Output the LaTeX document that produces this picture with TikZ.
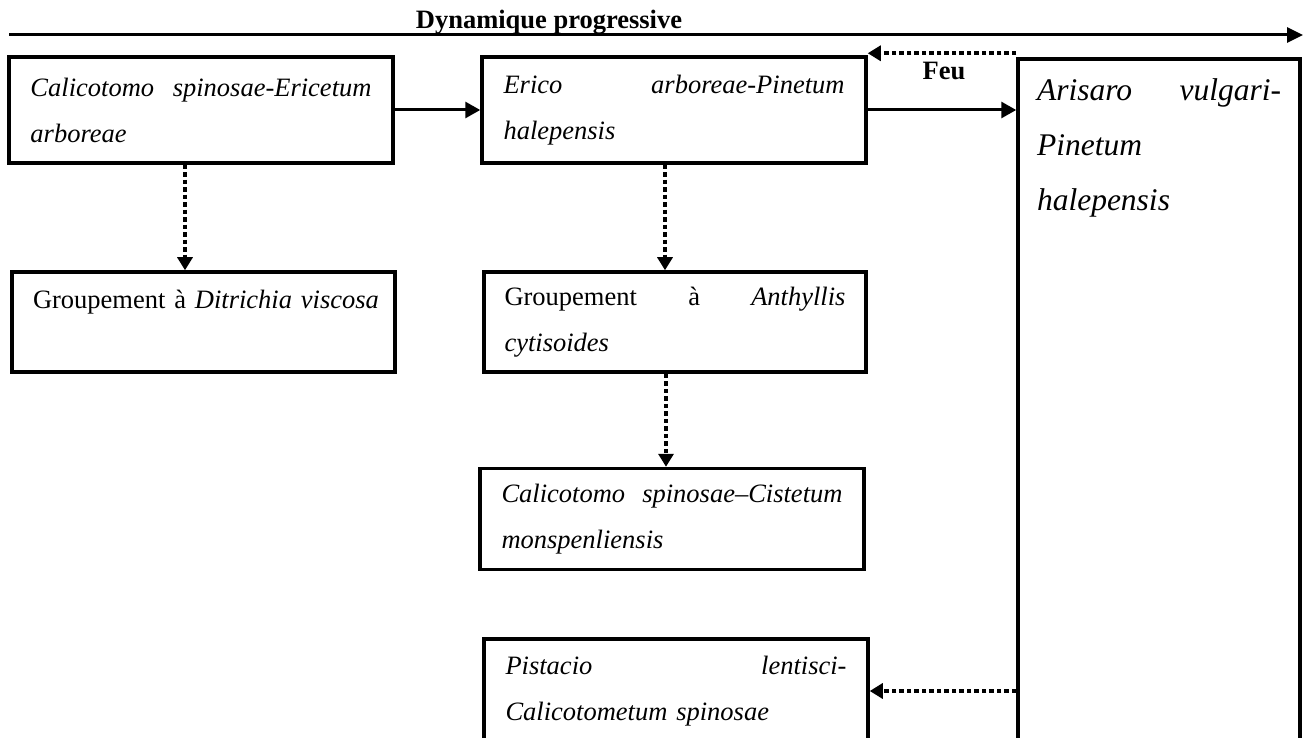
\documentclass[tikz,border=0pt]{standalone}
\usepackage{fontspec}
\setmainfont{Liberation Serif}
\usetikzlibrary{arrows.meta}
\newcommand\jline[1]{\noindent\hbox to\hsize{#1}}
\begin{document}
\begin{tikzpicture}[x=1pt,y=-1pt,
  box/.style={draw, line width=3.5pt, rectangle, inner sep=0pt, text width=341pt, align=left,
    font=\fontsize{26.5}{46}\selectfont},
  tallbox/.style={draw, line width=3.5pt, rectangle, inner sep=0pt},
  solidarrow/.style={line width=3pt, -{Triangle[length=15pt,width=16pt]}},
  toparrow/.style={line width=3pt, -{Triangle[length=16pt,width=15pt]}},
  dotarrow/.style={line width=4pt, dash pattern=on 4.5pt off 3pt, -{Triangle[length=13pt,width=15pt]}},
  lbl/.style={font=\fontsize{26.5}{30}\selectfont\bfseries, inner sep=0pt}]
\clip (0,0) rectangle (1307,738);
% title arrow
\node[lbl] (dyn) at (549,22) {Dynamique progressive};
\coordinate (ts) at (9,35);
\coordinate (te) at (1303,35);
\draw[toparrow] (ts) -- (te);
% boxes
\node[box, minimum width=384pt, minimum height=106pt] (b1) at (201,110)
  {\itshape\jline{Calicotomo\hfill spinosae-Ericetum}\\ arboreae};
\node[box, minimum width=384pt, minimum height=106pt] (b2) at (674,110)
  {\itshape\jline{Erico\hfill arboreae-Pinetum}\\ halepensis};
\node[box, text width=341pt, minimum width=383pt, minimum height=100pt] (b3) at (203.5,322)
  {\noindent\hbox{Groupement à \textit{Ditrichia viscosa}}\\ \mbox{}};
\node[box, minimum width=382pt, minimum height=100pt] (b4) at (675,322)
  {\jline{Groupement\hfill à\hfill \textit{Anthyllis}}\\ \textit{cytisoides}};
\node[box, minimum width=384pt, minimum height=101pt] (b5) at (672,519)
  {\itshape\jline{Calicotomo\hfill spinosae–Cistetum}\\ monspenliensis};
\node[box, minimum width=384pt, minimum height=104pt] (b6) at (676,691)
  {\itshape\jline{Pistacio\hfill lentisci-}\\ Calicotometum spinosae};
\node[tallbox, minimum width=282pt, minimum height=702pt] (rb) at (1159,410)
  {\fontsize{31.5}{55}\selectfont\itshape\parbox[c][662pt][t]{244pt}{\jline{Arisaro\hfill vulgari-}\\ Pinetum\\ halepensis}};
% label
\node[lbl] (feu) at (944,71) {Feu};
% connectors
\draw[solidarrow] (b1.east) -- (b2.west);
\draw[solidarrow] (b2.east) -- (b2.east -| rb.west);
\draw[dotarrow] ([yshift=4pt]rb.north west) -- ([yshift=4pt]rb.north west -| b2.east);
\draw[dotarrow] ([xshift=-16pt]b1.south) -- ([xshift=-16pt]b1.south |- b3.north);
\draw[dotarrow] ([xshift=-9pt]b2.south) -- ([xshift=-9pt]b2.south |- b4.north);
\draw[dotarrow] ([xshift=-9pt]b4.south) -- ([xshift=-9pt]b4.south |- b5.north);
\draw[dotarrow] (b6.east -| rb.west) -- (b6.east);
\end{tikzpicture}
\end{document}
